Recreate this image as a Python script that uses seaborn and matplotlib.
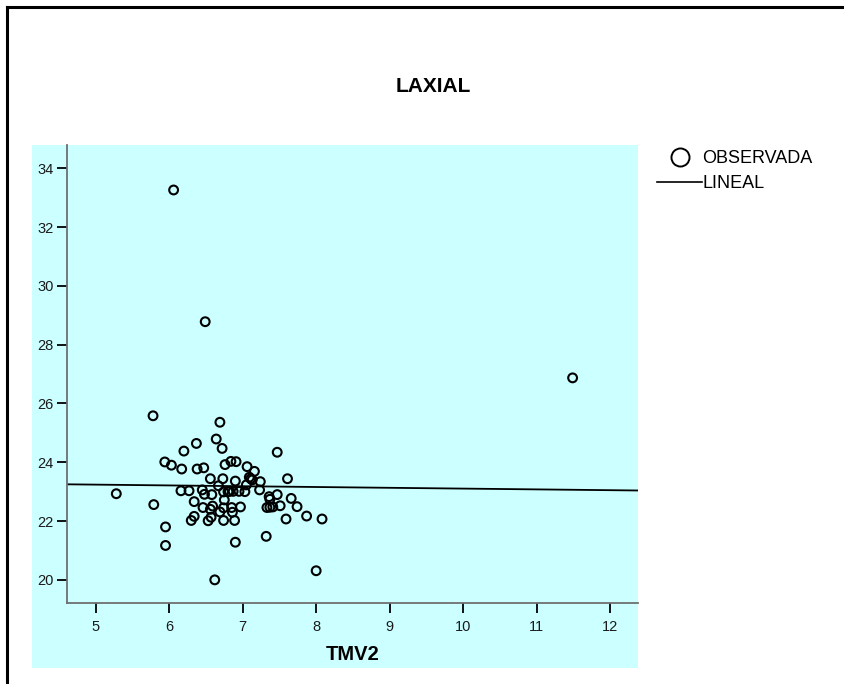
import matplotlib
matplotlib.use("Agg")
import matplotlib.pyplot as plt
from matplotlib.lines import Line2D
from matplotlib.patches import Rectangle
import numpy as np
import pandas as pd
import seaborn as sns

# Observed values
tmv2 = [5.28, 5.78, 5.79, 5.94, 6.03, 5.95, 5.95, 6.17, 6.20, 6.16, 6.27, 6.37, 6.38, 6.47,
        6.34, 6.45, 6.48, 6.34, 6.30, 6.46, 6.56, 6.58, 6.59, 6.53, 6.57, 6.56, 6.64, 6.69,
        6.72, 6.76, 6.73, 6.67, 6.74, 6.75, 6.74, 6.69, 6.74, 6.62, 6.84, 6.91, 6.82, 6.90,
        6.87, 6.95, 6.85, 6.86, 6.97, 6.89, 6.90, 7.06, 7.05, 7.09, 7.11, 7.13, 7.16, 7.24,
        7.23, 7.32, 7.36, 7.37, 7.33, 7.37, 7.41, 7.47, 7.47, 7.51, 7.61, 7.59, 7.66, 7.74,
        7.87, 8.00, 8.08, 11.49, 6.49, 6.06, 7.03, 6.80]
laxial = [22.93, 25.58, 22.56, 24.01, 23.90, 21.80, 21.17, 23.77, 24.38, 23.03, 23.03, 24.64,
          23.77, 23.81, 22.66, 23.06, 22.91, 22.16, 22.02, 22.46, 23.44, 22.90, 22.51, 22.01,
          22.13, 22.40, 24.79, 25.36, 24.47, 23.92, 23.44, 23.20, 22.99, 22.72, 22.45, 22.31,
          22.02, 20.00, 24.03, 24.02, 23.01, 23.36, 23.01, 23.01, 22.46, 22.30, 22.48, 22.02,
          21.28, 23.85, 23.23, 23.49, 23.44, 23.40, 23.69, 23.34, 23.06, 21.48, 22.83, 22.74,
          22.46, 22.47, 22.48, 24.34, 22.90, 22.52, 23.44, 22.07, 22.77, 22.49, 22.17, 20.31,
          22.07, 26.87, 28.78, 33.26, 23.00, 23.00]

# Linear fit coefficients (LAXIAL = b0 + b1 * TMV2)
fit_b0 = 23.374
fit_b1 = -0.027

x_ticks = [5, 6, 7, 8, 9, 10, 11, 12]
y_ticks = [20, 22, 24, 26, 28, 30, 32, 34]
x_limits = (4.605, 12.38)
y_limits = (19.23, 34.79)

W, H = 845, 684
plt.rcParams["font.family"] = ["Liberation Sans", "DejaVu Sans"]

fig = plt.figure(figsize=(W / 100, H / 100), dpi=100)
fig.patch.set_facecolor("white")

cyan = "#ccffff"
# background panel behind the plot area
fig.patches.append(Rectangle((32.3 / W, 1 - 668 / H), (638 - 32.3) / W, (668 - 145) / H,
                             transform=fig.transFigure, facecolor=cyan, edgecolor="none",
                             zorder=-5))
# outer frame lines (top and left)
fig.lines.append(Line2D([7 / W, 7 / W], [0, 1 - 7 / H], transform=fig.transFigure,
                        color="black", lw=2.2, zorder=-4))
fig.lines.append(Line2D([7 / W, 1], [1 - 7 / H, 1 - 7 / H], transform=fig.transFigure,
                        color="black", lw=2.2, zorder=-4))

ax_l, ax_r, ax_t, ax_b = 66.7, 638, 145, 602.5
ax = fig.add_axes([ax_l / W, 1 - ax_b / H, (ax_r - ax_l) / W, (ax_b - ax_t) / H])
ax.set_facecolor(cyan)
ax.set_zorder(1)

df = pd.DataFrame({"TMV2": tmv2, "LAXIAL": laxial})
sns.scatterplot(data=df, x="TMV2", y="LAXIAL", ax=ax, marker="o", s=40,
                facecolor="none", edgecolor="black", linewidth=1.5, zorder=3)

fit_x = np.array(x_limits)
fit_df = pd.DataFrame({"TMV2": fit_x, "LAXIAL": fit_b0 + fit_b1 * fit_x})
sns.lineplot(data=fit_df, x="TMV2", y="LAXIAL", ax=ax, color="black", linewidth=1.3,
             zorder=2)

ax.set_xlim(*x_limits)
ax.set_ylim(*y_limits)
ax.set_xticks(x_ticks)
ax.set_yticks(y_ticks)
ax.set_xticklabels([str(v) for v in x_ticks])
ax.set_yticklabels([str(v) for v in y_ticks])

for side in ["top", "right"]:
    ax.spines[side].set_visible(False)
for side in ["left", "bottom"]:
    ax.spines[side].set_color("#6e6e6e")
    ax.spines[side].set_linewidth(1.3)

ax.tick_params(axis="both", direction="out", length=7.5, width=1.3, color="black",
               labelsize=10.5, labelcolor="#1a1a1a")
ax.tick_params(axis="y", pad=2)
ax.tick_params(axis="x", pad=5)

ax.set_ylabel("")
ax.set_xlabel("TMV2", fontsize=14.5, fontweight="bold")
ax.xaxis.set_label_coords(0.5, -(654 - ax_b) / (ax_b - ax_t))
ax.xaxis.label.set_va("center")

fig.text(433 / W, 1 - 86 / H, "LAXIAL", ha="center", va="center", fontsize=15,
         fontweight="bold")

handles = [
    Line2D([], [], marker="o", linestyle="none", markersize=13, markerfacecolor="none",
           markeredgecolor="black", markeredgewidth=1.4),
    Line2D([], [], color="black", linewidth=1.2),
]
fig.legend(handles, ["OBSERVADA", "LINEAL"], loc="upper left",
           bbox_to_anchor=(657 / W, 1 - 150 / H), frameon=False, fontsize=13,
           handlelength=2.5, handletextpad=0.0, labelspacing=0.45, borderpad=0,
           borderaxespad=0)

fig.savefig("out.png", dpi=100)
